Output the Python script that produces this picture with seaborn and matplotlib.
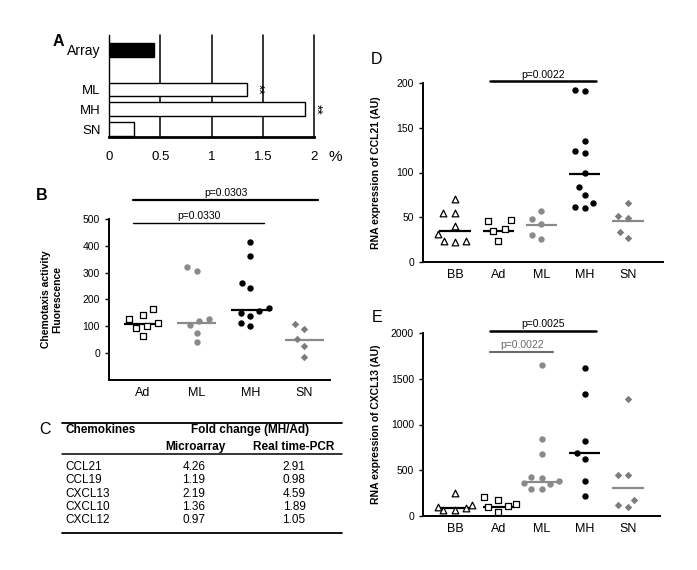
import matplotlib
matplotlib.use('Agg')
import matplotlib.pyplot as plt
import seaborn as sns

# --- A: bar panel (%)
a_labels = ['Array', 'ML', 'MH', 'SN']
a_values = [0.44, 1.35, 1.91, 0.24]
a_marks = ['', '**', '**', '']
a_ticks = [0, 0.5, 1, 1.5, 2]

# --- B: chemotaxis activity
b_groups = ['Ad', 'ML', 'MH', 'SN']
b_ad = [163, 142, 128, 113, 102, 95, 63]
b_ml = [320, 307, 128, 121, 104, 77, 40]
b_mh = [415, 362, 261, 241, 167, 159, 148, 139, 111, 100]
b_sn = [109, 91, 53, 26, -15]
b_medians = [110, 114, 160, 48]
b_pvals = [('Ad', 'MH', 'p=0.0330', 485), ('Ad', 'SN', 'p=0.0303', 571)]

# --- C: fold change table
c_chemokines = ['CCL21', 'CCL19', 'CXCL13', 'CXCL10', 'CXCL12']
c_microarray = ['4.26', '1.19', '2.19', '1.36', '0.97']
c_rtpcr = ['2.91', '0.98', '4.59', '1.89', '1.05']

# --- D: CCL21
d_groups = ['BB', 'Ad', 'ML', 'MH', 'SN']
d_bb = [70, 55, 55, 40, 31, 24, 24, 22]
d_ad = [47, 46, 37, 35, 24]
d_ml = [57, 48, 43, 30, 26]
d_mh = [192, 191, 135, 124, 122, 99, 84, 75, 66, 62, 60]
d_sn = [66, 51, 49, 34, 27]
d_medians = [35, 35, 41, 98, 46]
d_pvals = [('Ad', 'MH', 'p=0.0022', 202)]

# --- E: CXCL13
e_groups = ['BB', 'Ad', 'ML', 'MH', 'SN']
e_bb = [255, 120, 100, 85, 70, 65]
e_ad = [213, 176, 128, 110, 100, 48]
e_ml = [1650, 840, 680, 430, 410, 380, 360, 350, 300, 290]
e_mh = [1620, 1330, 825, 690, 625, 380, 220]
e_sn = [1280, 450, 445, 180, 125, 95]
e_medians = [92, 103, 367, 690, 301]
e_pvals = [('Ad', 'MH', 'p=0.0025', 2022), ('Ad', 'ML', 'p=0.0022', 1796)]

GRAY = '#8a8a8a'
GRAY2 = '#7c7c7c'
# marker, face, edge, size, median colour
STYLE = {
    'BB': ('^', 'white', 'black', 4.8, 'black'),
    'Ad': ('s', 'white', 'black', 4.0, 'black'),
    'ML': ('o', GRAY, None, 4.6, GRAY),
    'MH': ('o', 'black', None, 4.6, 'black'),
    'SN': ('D', GRAY2, None, 3.8, GRAY),
}
LAYOUT_SIZE = 7.0  # spacing used for the swarm layout (Prism-like columns)
swarms = []


def dot_panel(ax, groups, series, medians, pvals, ylim, yticks, ylabel,
              xlim, bracket_style):
    for g, vals in zip(groups, series):
        marker, face, edge, size, _ = STYLE[g]
        n_before = len(ax.collections)
        sns.swarmplot(x=[g] * len(vals), y=vals, order=groups, ax=ax,
                      marker=marker, color=face,
                      edgecolor=edge if edge else face,
                      linewidth=0.9 if edge else 0, size=LAYOUT_SIZE,
                      zorder=3)
        for coll in ax.collections[n_before:]:
            swarms.append((coll, size))
    for i, (g, m) in enumerate(zip(groups, medians)):
        ax.hlines(m, i - 0.36, i + 0.36, color=STYLE[g][4], lw=1.6, zorder=2)
    for (g1, g2, label, y), (col, lw) in zip(pvals, bracket_style):
        x0 = groups.index(g1) - 0.18
        x1 = groups.index(g2) + 0.26
        ax.plot([x0, x1], [y, y], color=col, lw=lw, clip_on=False)
        ax.annotate(label, xy=((x0 + x1) / 2, y), xytext=(0, 1.2),
                    textcoords='offset points', ha='center', va='bottom',
                    fontsize=7.5, color=col, annotation_clip=False)
    ax.set_xlim(*xlim)
    ax.set_ylim(*ylim)
    ax.set_yticks(yticks)
    ax.set_xlabel('')
    ax.set_ylabel(ylabel, fontsize=7.5, fontweight='bold')
    ax.tick_params(axis='x', length=0, pad=5, labelsize=9)
    ax.tick_params(axis='y', length=3, width=1, pad=3.5, labelsize=7.5)
    sns.despine(ax=ax)
    for s in ('left', 'bottom'):
        ax.spines[s].set_linewidth(1.4)


sns.set_theme(style='ticks')
plt.rcParams['font.family'] = ['Liberation Sans', 'DejaVu Sans']
plt.rcParams.update({'text.color': 'black', 'axes.labelcolor': 'black',
                     'xtick.color': 'black', 'ytick.color': 'black',
                     'axes.edgecolor': 'black'})

fig = plt.figure(figsize=(6.97, 5.70), dpi=100)
W, H = 697, 570


def add_ax(left, top, right, bottom):
    return fig.add_axes([left / W, 1 - bottom / H, (right - left) / W,
                         (bottom - top) / H])


# ---------- A ----------
axA = add_ax(109, 35, 314, 137)
a_pos = [0] + list(range(2, len(a_labels) + 1))
for p, v, lab in zip(a_pos, a_values, a_labels):
    face = 'black' if lab == 'Array' else 'white'
    axA.barh(p, v, height=0.7, color=face, edgecolor='black', lw=1.0,
             zorder=3)
for p, v, mk in zip(a_pos, a_values, a_marks):
    if mk:
        axA.text(v + 0.04, p, mk, rotation=270, fontsize=10,
                 ha='left', va='center')
axA.set_xlim(0, 2)
axA.set_ylim(4.4, -0.75)
axA.set_xticks(a_ticks)
axA.set_xticklabels(['0', '0.5', '1', '1.5', '2'])
axA.set_yticks(a_pos)
axA.set_yticklabels(a_labels)
for t in axA.get_yticklabels():
    t.set_fontsize(10 if t.get_text() == 'Array' else 9.5)
axA.tick_params(axis='x', length=0, pad=10, labelsize=9.5)
axA.tick_params(axis='y', length=0, pad=6)
for x in a_ticks[1:]:
    axA.axvline(x, color='black', lw=1.1, zorder=1, clip_on=False)
axA.spines['top'].set_visible(False)
axA.spines['right'].set_visible(False)
axA.spines['left'].set_linewidth(1.0)
axA.spines['bottom'].set_linewidth(2.0)
fig.text(335 / W, 1 - 157 / H, '%', fontsize=11, ha='center', va='center')

# ---------- B ----------
axB = add_ax(109, 219, 330, 380)
dot_panel(axB, b_groups, [b_ad, b_ml, b_mh, b_sn], b_medians, b_pvals,
          (-100, 500), range(0, 501, 100),
          'Chemotaxis activity\nFluorescence', (-0.63, 3.48),
          [('black', 1.0), ('black', 1.6)])
axB.yaxis.set_label_coords(-0.21, 0.5)

# ---------- D ----------
axD = add_ax(423, 83, 663, 262)
dot_panel(axD, d_groups, [d_bb, d_ad, d_ml, d_mh, d_sn], d_medians, d_pvals,
          (0, 200), range(0, 201, 50), 'RNA expression of CCL21 (AU)',
          (-0.74, 4.81), [('black', 1.8)])
axD.yaxis.set_label_coords(-0.176, 0.5)

# ---------- E ----------
axE = add_ax(423, 333, 660, 516)
dot_panel(axE, e_groups, [e_bb, e_ad, e_ml, e_mh, e_sn], e_medians, e_pvals,
          (0, 2000), range(0, 2001, 500), 'RNA expression of CXCL13 (AU)',
          (-0.74, 4.74), [('black', 1.8), ('#6a6a6a', 1.5)])
axE.yaxis.set_label_coords(-0.176, 0.5)

# lay the swarms out with the wider spacing, then freeze them and shrink
# the markers to their real size
fig.canvas.draw()
for coll, size in swarms:
    if 'draw' in coll.__dict__:
        del coll.draw
    coll.set_sizes([size ** 2])

# ---------- overlay: panel letters + table C ----------
ov = fig.add_axes([0, 0, 1, 1])
ov.set_xlim(0, W)
ov.set_ylim(H, 0)
ov.axis('off')
for letter, (x, y) in zip('ABCDE', [(58, 41), (42, 195), (45, 430),
                                    (376, 60), (377, 318)]):
    ov.text(x, y, letter, fontsize=11.5, ha='center', va='center',
            fontweight='bold' if letter in 'AB' else 'normal')

ov.plot([62, 342], [422.5, 422.5], color='black', lw=1.3)
ov.plot([62, 342], [454, 454], color='black', lw=1.1)
ov.plot([62, 342], [533, 533], color='black', lw=1.3)
ov.text(65, 430, 'Chemokines', fontsize=8.5, fontweight='bold',
        ha='left', va='center')
ov.text(250, 430, 'Fold change (MH/Ad)', fontsize=8.5, fontweight='bold',
        ha='center', va='center')
ov.text(195, 447, 'Microarray', fontsize=8.5, fontweight='bold',
        ha='center', va='center')
ov.text(293.5, 447, 'Real time-PCR', fontsize=8.5, fontweight='bold',
        ha='center', va='center')
for k, (name, m, r) in enumerate(zip(c_chemokines, c_microarray, c_rtpcr)):
    y = 467 + k * 13.3
    ov.text(65, y, name, fontsize=8.5, ha='left', va='center')
    ov.text(194, y, m, fontsize=8.5, ha='center', va='center')
    ov.text(294, y, r, fontsize=8.5, ha='center', va='center')

fig.savefig('out.png', dpi=100)
